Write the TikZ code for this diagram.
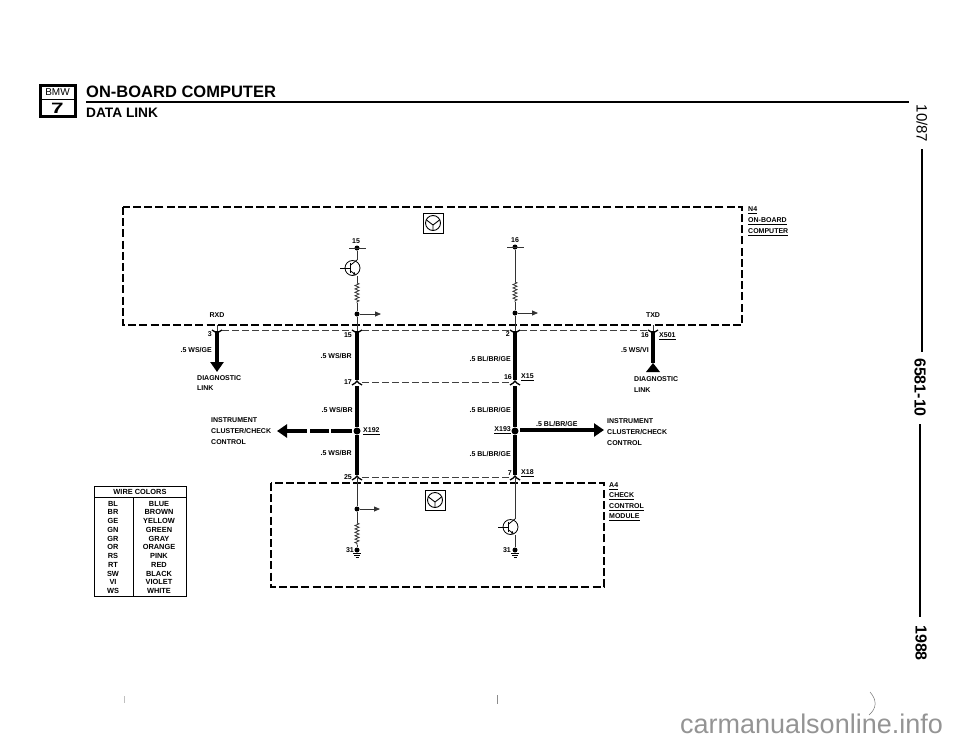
\documentclass[tikz,border=0pt]{standalone}
\usepackage{fontspec}
\setmainfont{Liberation Sans}
\usetikzlibrary{arrows.meta,decorations.pathmorphing}
\tikzset{
  boxline/.style={line width=1.7pt,dash pattern=on 8pt off 3.2pt},
  linkline/.style={line width=0.7pt,dash pattern=on 7pt off 3pt,color=black!75},
  thickwire/.style={line width=4.6pt},
  thinwire/.style={line width=0.8pt,color=black!80},
  coilwire/.style={thinwire,decorate,decoration={zigzag,segment length=3.4pt,amplitude=2pt}},
  smallarrow/.style={thinwire,-{Triangle[length=6pt,width=5pt]}},
  bigarrow/.style={thickwire,-{Triangle[length=10pt,width=13pt]}},
  joint/.style={circle,fill,inner sep=0pt,minimum size=#1},
  joint/.default=5pt,
  pinlabel/.style={font=\fontsize{7}{7}\selectfont\bfseries,inner sep=0pt},
  leftlabel/.style={pinlabel,anchor=west},
  rightlabel/.style={pinlabel,anchor=east},
  tablelabel/.style={font=\fontsize{7.4}{8}\selectfont\bfseries,inner sep=0pt,anchor=base},
  sidelabel/.style={font=\fontsize{16}{16}\selectfont\bfseries,inner sep=0pt,rotate=-90},
  pindown/.pic={\draw[line width=1.3pt] (-5,-1) .. controls (-2,0) and (-1,2) .. (0,3) .. controls (1,2) and (2,0) .. (5,-1);},
  pinup/.pic={\draw[line width=1.3pt] (-5,3) .. controls (-2,2) and (-1,0) .. (0,-1) .. controls (1,0) and (2,2) .. (5,3);},
  transistor/.pic={
    \draw[line width=0.8pt] (0,0) circle (7.5);
    \draw[line width=0.8pt] (-12.5,0) -- (-2.5,0);
    \draw[line width=1pt] (-2.5,-5) -- (-2.5,5);
    \draw[line width=0.8pt] (-2.5,-2.5) -- (4.5,-8) coordinate (-col);
    \draw[line width=0.8pt,-{Latex[length=3pt,width=3pt]}] (-2.5,2.5) -- (3.5,7);
    \coordinate (-emi) at (4.5,8);
  },
  groundpin/.pic={
    \draw[line width=0.7pt] (-4,0) -- (4,0) (-3,2) -- (3,2) (-1.5,4) -- (1.5,4);
  },
  symbolbox/.pic={
    \draw[line width=1pt] (-10,-10) rectangle (10,10);
    \draw[line width=0.9pt] (0,0) circle (7.5);
    \draw[line width=0.9pt] (-6.5,-3) -- (0,2) -- (6.5,-3) (0,2) -- (0,7.5);
  }
}

\begin{document}
\begin{tikzpicture}[x=1pt,y=-1pt]
  \useasboundingbox (0,0) rectangle (960,744);

  % header
  \draw[line width=3pt] (40.5,85.5) rectangle (75,116);
  \draw[line width=1.8pt] (40.5,99.5) -- (75,99.5);
  \node[inner sep=0pt,font=\fontsize{10}{10}\selectfont] (bmw) at (57.5,92.5) {BMW};
  \node[inner sep=0pt,xscale=1.5,font=\fontsize{15}{15}\selectfont\bfseries] (seven) at (57.5,108) {7};
  \node[anchor=base west,inner sep=0pt,font=\fontsize{16.5}{17}\selectfont\bfseries] (title) at (86,97) {ON-BOARD COMPUTER};
  \node[anchor=base west,inner sep=0pt,font=\fontsize{13.7}{14}\selectfont\bfseries] (subtitle) at (86,117) {DATA LINK};
  \draw[line width=1.4pt] (86,102) -- (909,102);

  % side margin
  \node[sidelabel,font=\fontsize{15}{15}\selectfont] (date) at (922,123.5) {10/87};
  \draw[line width=1.8pt] (922,149) -- (922,352);
  \node[sidelabel] (group) at (920,387.5) {6581-10};
  \draw[line width=1.8pt] (920,424) -- (920,617);
  \node[sidelabel] (year) at (921,643) {1988};

  % control units
  \draw[boxline] (123,207) rectangle (742,325);
  \draw[boxline] (271,483) rectangle (604,587);
  \pic at (433,223) {symbolbox};
  \pic at (435,500) {symbolbox};

  % pins
  \coordinate (rxdin) at (217,325);
  \coordinate (rxdtop) at (217,331);
  \coordinate (rxdend) at (217,372);
  \coordinate (txdin) at (653,325);
  \coordinate (txdtop) at (653,331);
  \coordinate (txdend) at (653,363);
  \coordinate (wsa) at (357,331);
  \coordinate (wsb) at (357,380);
  \coordinate (wsc) at (357,386);
  \coordinate (wsd) at (357,475);
  \coordinate (bla) at (515,331);
  \coordinate (blb) at (515,380);
  \coordinate (blc) at (515,386);
  \coordinate (bld) at (515,475);
  \node[joint=7pt] (xl) at (357,431) {};
  \node[joint=7pt] (xr) at (515,431) {};

  % wires between the units
  \draw[thinwire] (rxdin) -- (rxdtop);
  \draw[thinwire] (txdin) -- (txdtop);
  \draw[bigarrow] (rxdtop) -- (rxdend);
  \draw[thickwire] (txdtop) -- (txdend);
  \fill (646,372) -- (660,372) -- (txdend) -- cycle;
  \draw[thickwire] (wsa) -- (wsb);
  \draw[thickwire] (wsc) -- (xl) -- (wsd);
  \draw[thickwire] (bla) -- (blb);
  \draw[thickwire] (blc) -- (xr) -- (bld);
  \pic at (rxdtop) {pindown};
  \pic at (txdtop) {pindown};
  \pic at (wsa) {pindown};
  \pic at (bla) {pindown};
  \pic at (357,382) {pinup};
  \pic at (515,382) {pinup};
  \pic at (357,477) {pinup};
  \pic at (515,477) {pinup};
  \draw[linkline] (222,330) -- (352,330);
  \draw[linkline] (362,330) -- (510,330);
  \draw[linkline] (520,330) -- (648,330);
  \draw[linkline] (362,382) -- (510,382);
  \draw[linkline] (362,477) -- (510,477);

  % branches to the cluster
  \coordinate (lefta) at (352,431);
  \coordinate (leftb) at (331,431);
  \coordinate (leftc) at (329,431);
  \coordinate (leftd) at (310,431);
  \coordinate (lefte) at (307,431);
  \coordinate (lefttip) at (277,431);
  \coordinate (rightstart) at (520,430);
  \coordinate (righttip) at (604,430);
  \draw[thickwire] (lefta) -- (leftb);
  \draw[thickwire] (leftc) -- (leftd);
  \draw[bigarrow] (lefte) -- (lefttip);
  \draw[bigarrow] (rightstart) -- (righttip);

  % inside the computer, left
  \node[joint] (uleft) at (357,248) {};
  \coordinate (ulefta) at (349,248);
  \coordinate (uleftb) at (366,248);
  \draw[thinwire] (ulefta) -- (uleftb);
  \pic (qleft) at (352.5,268) {transistor};
  \coordinate (rleft) at (357,283);
  \coordinate (rleftb) at (357,303);
  \node[joint] (dleft) at (357,314) {};
  \coordinate (aleft) at (381,314);
  \draw[thinwire] (uleft) -- (qleft-col);
  \draw[thinwire] (qleft-emi) -- (rleft);
  \draw[coilwire] (rleft) -- (rleftb);
  \draw[thinwire] (rleftb) -- (dleft);
  \draw[thinwire] (dleft) -- (wsa);
  \draw[smallarrow] (dleft) -- (aleft);

  % inside the computer, right
  \node[joint] (uright) at (515,247) {};
  \coordinate (urighta) at (507,247);
  \coordinate (urightb) at (524,247);
  \draw[thinwire] (urighta) -- (urightb);
  \coordinate (rright) at (515,282);
  \coordinate (rrightb) at (515,302);
  \node[joint] (dright) at (515,313) {};
  \coordinate (aright) at (538,313);
  \draw[thinwire] (uright) -- (rright);
  \draw[coilwire] (rright) -- (rrightb);
  \draw[thinwire] (rrightb) -- (dright);
  \draw[thinwire] (dright) -- (bla);
  \draw[smallarrow] (dright) -- (aright);

  % inside the check module, left
  \node[joint] (mleft) at (357,509) {};
  \coordinate (amleft) at (380,509);
  \coordinate (rmleft) at (357,523);
  \coordinate (rmleftb) at (357,545);
  \node[joint] (gleft) at (357,550) {};
  \coordinate (topmleft) at (357,478);
  \draw[thinwire] (topmleft) -- (mleft);
  \draw[smallarrow] (mleft) -- (amleft);
  \draw[thinwire] (mleft) -- (rmleft);
  \draw[coilwire] (rmleft) -- (rmleftb);
  \draw[thinwire] (rmleftb) -- (gleft);
  \pic at (357,553) {groundpin};

  % inside the check module, right
  \coordinate (topmright) at (515,478);
  \pic (qmod) at (510.5,527) {transistor};
  \node[joint] (gright) at (515,550) {};
  \draw[thinwire] (topmright) -- (qmod-col);
  \draw[thinwire] (qmod-emi) -- (gright);
  \pic at (515,553) {groundpin};

  % pin numbers
  \node[pinlabel] (nupl) at (356,241) {15};
  \node[pinlabel] (nupr) at (515,240) {16};
  \node[pinlabel] (nrxd) at (217,315) {RXD};
  \node[pinlabel] (ntxd) at (653,315) {TXD};
  \node[rightlabel] (pina) at (212,334) {3};
  \node[rightlabel] (pinb) at (352,335) {15};
  \node[rightlabel] (pinc) at (352,382) {17};
  \node[rightlabel] (pind) at (352,477) {25};
  \node[rightlabel] (pine) at (510,334) {2};
  \node[rightlabel] (pinf) at (512,377) {16};
  \node[rightlabel] (ping) at (512,473) {7};
  \node[rightlabel] (pinh) at (649,335) {16};
  \node[rightlabel] (pini) at (354,550) {31};
  \node[rightlabel] (pinj) at (511,550) {31};

  % wire labels
  \node[rightlabel] (wirea) at (212,350) {.5 WS/GE};
  \node[rightlabel] (wireb) at (352,356) {.5 WS/BR};
  \node[rightlabel] (wirec) at (353,410) {.5 WS/BR};
  \node[rightlabel] (wired) at (352,453) {.5 WS/BR};
  \node[rightlabel] (wiree) at (511,359) {.5 BL/BR/GE};
  \node[rightlabel] (wiref) at (511,410) {.5 BL/BR/GE};
  \node[rightlabel] (wireg) at (511,454) {.5 BL/BR/GE};
  \node[leftlabel] (wireh) at (536,424) {.5 BL/BR/GE};
  \node[rightlabel] (wirei) at (649,350) {.5 WS/VI};

  % connector labels
  \node[leftlabel] (xa) at (363,431) {\underline{X192}};
  \node[rightlabel] (xb) at (511,430) {\underline{X193}};
  \node[leftlabel] (xc) at (521,377) {\underline{X15}};
  \node[leftlabel] (xd) at (521,473) {\underline{X18}};
  \node[leftlabel] (xe) at (659,336) {\underline{X501}};

  % destinations
  \node[leftlabel] (diaga) at (197,378) {DIAGNOSTIC};
  \node[leftlabel] (diagb) at (197,388) {LINK};
  \node[leftlabel] (diagc) at (634,379) {DIAGNOSTIC};
  \node[leftlabel] (diagd) at (634,390) {LINK};
  \node[leftlabel] (insta) at (211,420) {INSTRUMENT};
  \node[leftlabel] (instb) at (211,431) {CLUSTER/CHECK};
  \node[leftlabel] (instc) at (211,442) {CONTROL};
  \node[leftlabel] (instd) at (607,421) {INSTRUMENT};
  \node[leftlabel] (inste) at (607,432) {CLUSTER/CHECK};
  \node[leftlabel] (instf) at (607,443) {CONTROL};

  % unit names
  \node[leftlabel] (unita) at (748,210) {\underline{N4}};
  \node[leftlabel] (unitb) at (748,221) {\underline{ON-BOARD}};
  \node[leftlabel] (unitc) at (748,232) {\underline{COMPUTER}};
  \node[leftlabel] (unitd) at (609,486) {\underline{A4}};
  \node[leftlabel] (unite) at (609,496) {\underline{CHECK}};
  \node[leftlabel] (unitf) at (609,507) {\underline{CONTROL}};
  \node[leftlabel] (unitg) at (609,517) {\underline{MODULE}};

  % wire colors
  \draw[line width=0.9pt] (94,486) rectangle (186,596);
  \draw[line width=0.9pt] (94,497) -- (186,497);
  \draw[line width=0.9pt] (133,497) -- (133,596);
  \node[tablelabel] (tablehead) at (140,494.5) {WIRE COLORS};
  \foreach \code/\wirecolor [count=\i] in {BL/BLUE,BR/BROWN,GE/YELLOW,GN/GREEN,GR/GRAY,OR/ORANGE,RS/PINK,RT/RED,SW/BLACK,VI/VIOLET,WS/WHITE}
    {
      \node[tablelabel] (code\i) at (113,{506.2+(\i-1)*8.73}) {\code};
      \node[tablelabel] (name\i) at (159,{506.2+(\i-1)*8.73}) {\wirecolor};
    }

  % scan marks and site name
  \draw[line width=0.5pt,color=black!55] (870,692) .. controls (877,700) and (877,708) .. (869,715);
  \draw[line width=0.5pt,color=black!25] (124,696) -- (124,703);
  \draw[line width=0.6pt,color=black!45] (497,695) -- (497,704);
  \node[anchor=base west,inner sep=0pt,text=black!42,font=\fontsize{27}{27}\selectfont] (site) at (680,733) {carmanualsonline.info};
\end{tikzpicture}
\end{document}
